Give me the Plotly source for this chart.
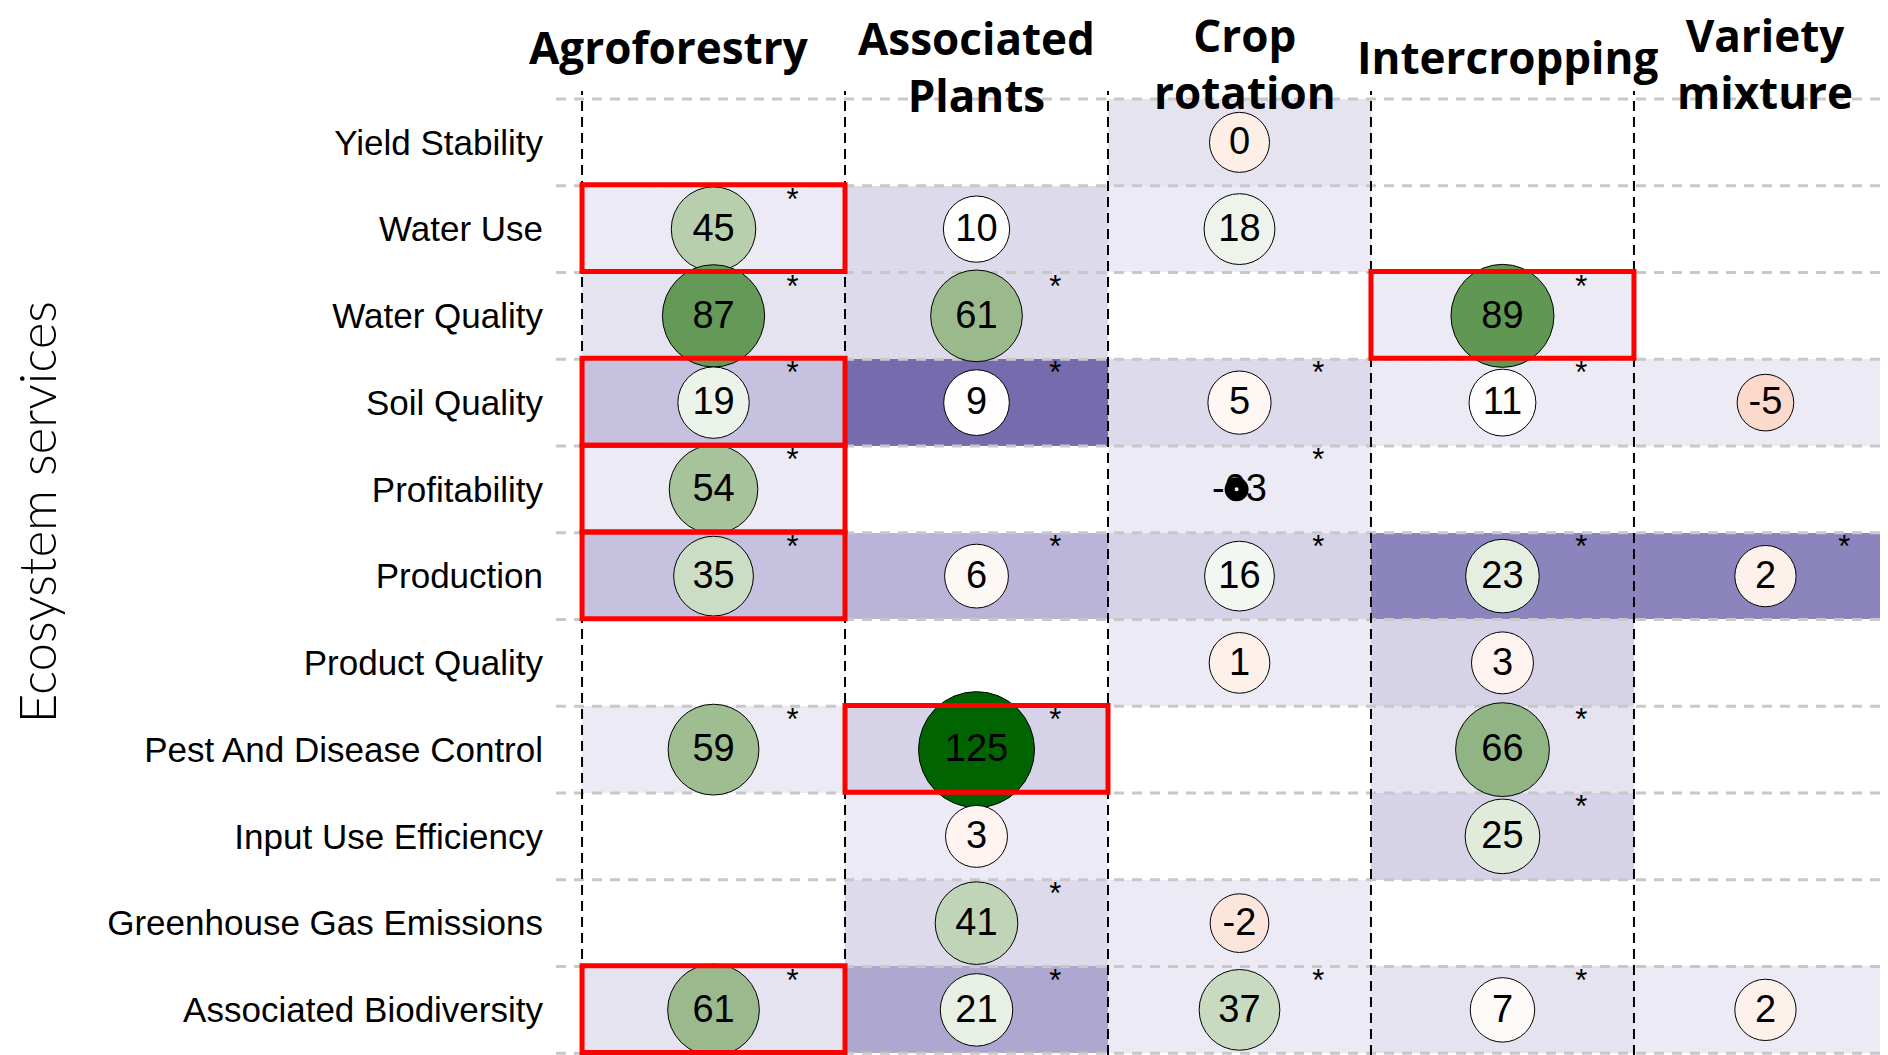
import plotly.graph_objects as go
import numpy as np

treatments = ["Agroforestry", "Associated<br>Plants", "Crop<br>rotation", "Intercropping", "Variety<br>mixture"]
services = ["Yield Stability", "Water Use", "Water Quality", "Soil Quality", "Profitability",
            "Production", "Product Quality", "Pest And Disease Control", "Input Use Efficiency",
            "Greenhouse Gas Emissions", "Associated Biodiversity"]

# effect size (%) per service, one list per practice (None = no data)
agroforestry = [None, 45, 87, 19, 54, 35, None, 59, None, None, 61]
associated_plants = [None, 10, 61, 9, None, 6, None, 125, 3, 41, 21]
crop_rotation = [0, 18, None, 5, -0.3, 16, 1, None, None, -2, 37]
intercropping = [None, None, 89, 11, None, 23, 3, 66, 25, None, 7]
variety_mixture = [None, None, None, -5, None, 2, None, None, None, None, 2]

# number of studies (cell shading)
n_agroforestry = [None, 2, 3, 8, 2, 8, None, 2, None, None, 3]
n_associated_plants = [None, 4, 4, 18, None, 9, None, 5, 2, 4, 10]
n_crop_rotation = [3, 2, None, 4, 2, 5, 2, None, None, 2, 2]
n_intercropping = [None, None, 2, 2, None, 14, 5, 3, 5, None, 3]
n_variety_mixture = [None, None, None, 2, None, 14, None, None, None, None, 2]

# significant effect (star)
sig_agroforestry = [0, 1, 1, 1, 1, 1, 0, 1, 0, 0, 1]
sig_associated_plants = [0, 0, 1, 1, 0, 1, 0, 1, 0, 1, 1]
sig_crop_rotation = [0, 0, 0, 1, 1, 1, 0, 0, 0, 0, 1]
sig_intercropping = [0, 0, 1, 1, 0, 1, 0, 1, 1, 0, 1]
sig_variety_mixture = [0, 0, 0, 0, 0, 1, 0, 0, 0, 0, 0]

# highlighted cells (treatment index, service index)
highlighted = [(0, 1), (0, 3), (0, 4), (0, 5), (0, 10), (1, 7), (3, 2)]
# cell whose bubble rendered as a tiny blob (with a garbled label) in the original
glitch = {(2, 4): "-03"}

effects = [agroforestry, associated_plants, crop_rotation, intercropping, variety_mixture]
studies = [n_agroforestry, n_associated_plants, n_crop_rotation, n_intercropping, n_variety_mixture]
sigs = [sig_agroforestry, sig_associated_plants, sig_crop_rotation, sig_intercropping, sig_variety_mixture]

nx, ny = len(treatments), len(services)
XR = [-0.599, 4.466]
YR = [10.52, -0.592]

# background heatmap
z = [[studies[c][r] for c in range(nx)] for r in range(ny)]
purples = [[0, "#f4f3f9"], [0.111, "#ecebf5"], [0.167, "#e5e3f0"], [0.222, "#dddaec"],
           [0.278, "#d6d2e7"], [0.444, "#c6c1df"], [0.5, "#bab5d8"], [0.556, "#aea7d0"],
           [0.778, "#8c84bd"], [1, "#756bad"]]
effect_scale = [[0, "#f7c6b0"], [0.037, "#fbd9cb"], [0.074, "#fdeee6"], [0.148, "#ffffff"],
                [0.259, "#e0ebdc"], [0.407, "#b8cfae"], [0.526, "#9aba8d"], [0.733, "#609753"],
                [1, "#006400"]]

fig = go.Figure()
fig.add_trace(go.Heatmap(x=list(range(nx)), y=list(range(ny)), z=z, colorscale=purples,
                         zmin=0, zmax=18, showscale=False, hoverinfo="skip"))

# grid lines
for r in range(ny + 1):
    fig.add_trace(go.Scatter(x=XR, y=[r - 0.5, r - 0.5], mode="lines", showlegend=False,
                             hoverinfo="skip", line=dict(color="#c8c8c8", width=3, dash="10px,8px")))
for c in range(nx + 1):
    fig.add_trace(go.Scatter(x=[c - 0.5, c - 0.5], y=YR, mode="lines", showlegend=False,
                             hoverinfo="skip", line=dict(color="black", width=2, dash="10px,6px")))

cx, cy, cv, cs = [], [], [], []
tx, ty, tt = [], [], []
gx, gy, gv = [], [], []
sx, sy = [], []
for c in range(nx):
    for r in range(ny):
        v = effects[c][r]
        if v is None:
            continue
        tx.append(c); ty.append(r + 0.025)
        tt.append(glitch.get((c, r), f"{v:g}"))
        if (c, r) in glitch:
            gx.append(c - 0.011); gy.append(r); gv.append(v)
        else:
            cx.append(c); cy.append(r); cv.append(v)
            cs.append(np.sqrt(3600 + 78.8 * v))
        if sigs[c][r]:
            sx.append(c + 0.3); sy.append(r - 0.31)

fig.add_trace(go.Scatter(x=cx, y=cy, mode="markers", showlegend=False,
                         marker=dict(size=cs, color=cv, colorscale=effect_scale, cmin=-10, cmax=125,
                                     line=dict(color="black", width=1), opacity=1)))
fig.add_trace(go.Scatter(x=tx, y=ty, mode="text", text=tt, showlegend=False,
                         textfont=dict(family="Liberation Sans, Arial", size=38, color="black")))
fig.add_trace(go.Scatter(x=gx, y=gy, mode="markers", showlegend=False,
                         marker=dict(size=14, color=gv, colorscale=effect_scale, cmin=-10, cmax=125,
                                     line=dict(color="black", width=10))))
fig.add_trace(go.Scatter(x=sx, y=sy, mode="text", text=["*"] * len(sx), showlegend=False,
                         textfont=dict(family="Liberation Sans, Arial", size=31, color="black")))

for c, r in highlighted:
    fig.add_shape(type="rect", xref="x", yref="y", x0=c - 0.5, x1=c + 0.5,
                  y0=r - 0.51, y1=r + 0.49, line=dict(color="#ff0000", width=5), layer="above")

header_xshift = [-45, 0, 6, 5, 0]
header_yshift = [44, 25, 28, 34, 28]
for c, name in enumerate(treatments):
    fig.add_annotation(x=c, y=1, xref="x", yref="paper", text=name, showarrow=False,
                       yanchor="middle", xshift=header_xshift[c], yshift=header_yshift[c],
                       font=dict(family="Open Sans", size=44, color="black", weight="bold"))

fig.add_annotation(x=0, y=0.563, xref="paper", yref="paper", text="Ecosystem services",
                   showarrow=False, textangle=-90, xanchor="center", yanchor="middle", xshift=-520,
                   font=dict(family="Lato", size=51, color="black", weight=300))

fig.update_xaxes(range=XR, showticklabels=False, showgrid=False, zeroline=False, showline=False)
fig.update_yaxes(range=YR, tickvals=list(range(ny)), ticktext=services, showgrid=False,
                 zeroline=False, showline=False, ticks="", ticklabelstandoff=12,
                 tickfont=dict(family="Liberation Sans, Arial", size=35, color="black"))
# page body has an 8px margin, so the figure is offset by 8px in the window
fig.update_layout(width=1888, height=1055, margin=dict(l=548, r=8, t=83, b=8),
                  plot_bgcolor="white", paper_bgcolor="white", showlegend=False)

fig.write_html("out.html")
